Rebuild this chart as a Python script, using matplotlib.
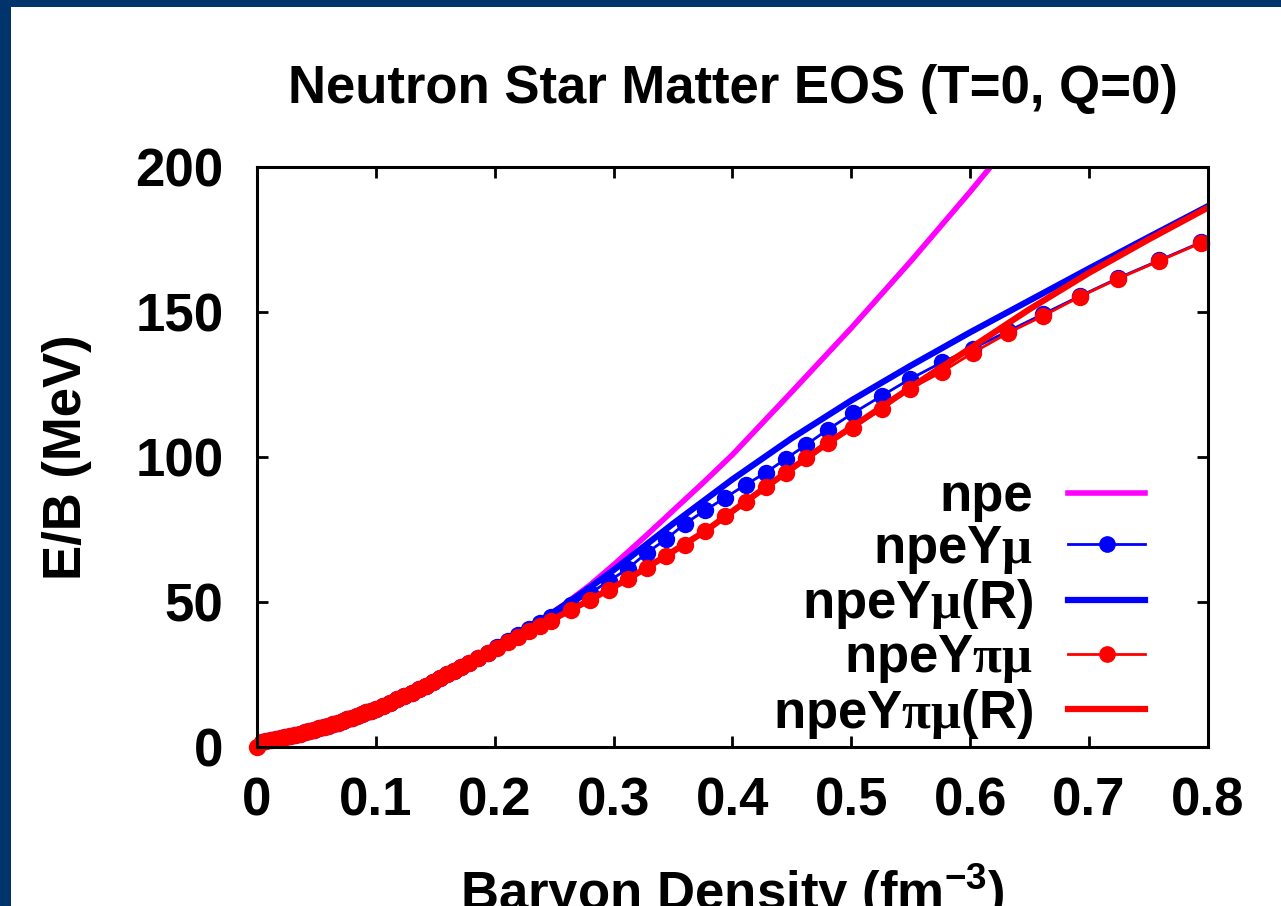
import numpy as np
import matplotlib
matplotlib.use("Agg")
import matplotlib.pyplot as plt
from matplotlib.patches import Rectangle

plt.rcParams['font.family'] = ['Liberation Sans', 'DejaVu Sans']
plt.rcParams['font.weight'] = 'bold'
plt.rcParams['mathtext.fontset'] = 'custom'
plt.rcParams['mathtext.rm'] = 'Liberation Serif'
plt.rcParams['mathtext.it'] = 'Liberation Serif:italic'
plt.rcParams['mathtext.bf'] = 'Liberation Sans:bold'

# --- data (density in fm^-3, E/B in MeV) ---
# low-density branch, where all five curves lie on top of each other
base_x = [0.0, 0.004, 0.008, 0.012, 0.016, 0.02, 0.024, 0.028, 0.032, 0.036,
          0.04, 0.044, 0.048, 0.052, 0.056, 0.06, 0.064, 0.068, 0.072, 0.076,
          0.08, 0.084, 0.088, 0.092, 0.096, 0.10, 0.106, 0.112, 0.118, 0.124,
          0.130, 0.136, 0.142, 0.148, 0.154, 0.160, 0.166, 0.172, 0.178,
          0.186, 0.194]
base_y = [0.0, 1.8, 2.1, 2.4, 2.7, 3.0, 3.4, 3.8, 4.2, 4.6,
          5.0, 5.4, 5.9, 6.4, 6.9, 7.4, 7.9, 8.4, 9.0, 9.5,
          10.1, 10.7, 11.3, 11.9, 12.5, 13.2, 14.2, 15.3, 16.4, 17.5,
          18.7, 19.9, 21.1, 22.4, 23.7, 25.0, 26.3, 27.6, 29.0,
          30.8, 32.5]

npe_x = [0.202, 0.22, 0.24, 0.26, 0.28, 0.30, 0.325, 0.35, 0.375, 0.40,
         0.45, 0.50, 0.55, 0.60, 0.63]
npe_y = [34.6, 39.0, 44.0, 49.6, 55.8, 62.8, 72.0, 81.5, 91.0, 100.8,
         122.5, 144.5, 167.5, 191.5, 206.5]

dots_x = [0.202, 0.211, 0.220, 0.229, 0.238, 0.247, 0.264, 0.28, 0.296, 0.312,
          0.328, 0.344, 0.36, 0.377, 0.394, 0.411, 0.428, 0.445, 0.462, 0.480,
          0.501, 0.526, 0.549, 0.576, 0.602, 0.632, 0.661, 0.692, 0.724,
          0.759, 0.794]
mu_y = [34.5, 36.5, 38.6, 40.7, 42.8, 44.9, 49.0, 53.0, 57.2, 61.5,
        67.0, 71.6, 77.0, 81.6, 86.0, 90.4, 94.6, 99.4, 104.2, 109.4,
        115.0, 121.2, 126.8, 132.6, 137.4, 143.4, 149.2, 155.4, 161.6,
        167.8, 174.0]
pimu_y = [34.3, 36.2, 38.1, 40.0, 41.8, 43.6, 47.2, 50.7, 54.2, 57.9,
          61.8, 65.9, 69.8, 74.4, 79.7, 84.6, 89.6, 94.6, 99.6, 104.8,
          110.0, 116.6, 123.4, 129.3, 135.9, 142.8, 148.6, 155.2, 161.4,
          167.6, 173.8]

mur_x = [0.202, 0.22, 0.24, 0.26, 0.28, 0.30, 0.35, 0.40, 0.45, 0.50,
         0.55, 0.60, 0.65, 0.70, 0.75, 0.80]
mur_y = [34.6, 39.0, 43.9, 49.3, 55.0, 61.0, 77.0, 92.3, 106.5, 119.5,
         131.5, 143.0, 154.0, 165.0, 175.8, 186.5]

pimur_x = [0.202, 0.22, 0.247, 0.28, 0.312, 0.344, 0.377, 0.411, 0.445, 0.480,
           0.50, 0.55, 0.60, 0.65, 0.70, 0.75, 0.80]
pimur_y = [34.3, 38.1, 43.6, 50.7, 57.9, 65.9, 74.4, 84.6, 94.6, 104.8,
           110.2, 124.0, 137.5, 151.0, 163.5, 175.0, 186.0]

labels = ['npe', r'npeY$\mathrm{\mu}$', r'npeY$\mathrm{\mu}$(R)',
          r'npeY$\mathrm{\pi\mu}$', r'npeY$\mathrm{\pi\mu}$(R)']
xticks = [0, 0.1, 0.2, 0.3, 0.4, 0.5, 0.6, 0.7, 0.8]
xticklabels = ['0', '0.1', '0.2', '0.3', '0.4', '0.5', '0.6', '0.7', '0.8']
yticks = [0, 50, 100, 150, 200]

fig = plt.figure(figsize=(12.81, 9.06), dpi=100, facecolor='#01346a')
# white panel on the navy slide background
fig.patches.append(Rectangle((11 / 1281, 0), 1 - 11 / 1281, 1 - 7 / 906,
                             transform=fig.transFigure, facecolor='white',
                             edgecolor='none', zorder=-5))

ax = fig.add_axes([0.2006, 0.1755, 0.7424, 0.6402])
ax.set_zorder(2)
fs = 38
ms = 11.5

ax.plot(base_x + npe_x, base_y + npe_y, color='#ff00ff', lw=4, label=labels[0])
ax.plot(base_x + dots_x, base_y + mu_y, color='#0000ff', lw=2, marker='o',
        ms=ms, label=labels[1])
ax.plot(base_x + mur_x, base_y + mur_y, color='#0000ff', lw=4.5, label=labels[2])
ax.plot(base_x + dots_x, base_y + pimu_y, color='#ff0000', lw=2, marker='o',
        ms=ms, label=labels[3], clip_on=False)
ax.plot(base_x + pimur_x, base_y + pimur_y, color='#ff0000', lw=4.5,
        label=labels[4])

ax.set_xlim(0, 0.8)
ax.set_ylim(0, 200)
ax.set_xticks(xticks)
ax.set_xticklabels(xticklabels)
ax.set_yticks(yticks)
ax.tick_params(direction='in', length=8, width=2, top=True, right=True,
               labelsize=fs)
ax.tick_params(axis='x', pad=21)
ax.tick_params(axis='y', pad=24)
for s in ax.spines.values():
    s.set_linewidth(2.2)

ax.set_title('Neutron Star Matter EOS (T=0, Q=0)', fontsize=fs,
             fontweight='bold', pad=46)
ax.set_ylabel('E/B (MeV)', fontsize=fs, fontweight='bold', labelpad=31)
ax.set_xlabel(r'Baryon Density ($\mathregular{fm^{-3}}$)', fontsize=fs,
              fontweight='bold', labelpad=26)

leg = ax.legend(loc='lower right', bbox_to_anchor=(0.934, 0.011),
                frameon=False, markerfirst=False, fontsize=fs,
                handlelength=1.46, handletextpad=0.66, labelspacing=0.03,
                borderpad=0, borderaxespad=0)
for h in leg.legend_handles:
    h.set_markersize(11)

fig.savefig('out.png', dpi=100, facecolor=fig.get_facecolor())
